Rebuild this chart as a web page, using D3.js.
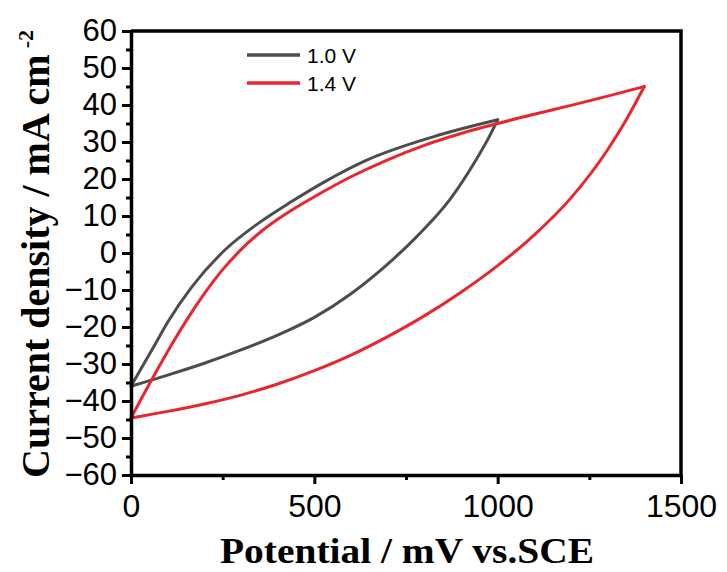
<!DOCTYPE html>
<html>
<head>
<meta charset="utf-8">
<script src="https://cdn.jsdelivr.net/npm/d3@7"></script>
<style>
  body { margin: 0; background: #fff; }
  svg { display: block; }
</style>
</head>
<body>
<svg id="cv"></svg>
<script>
// CV loops, one array per scan branch (potentials in mV, currents in mA cm-2)
// 1.0 V window
const fwdPotential10 = [0, 100, 200, 300, 400, 500, 600, 700, 780, 870, 940, 980, 1000];
const fwdCurrent10 = [-36, -33, -29.8, -26.2, -22.2, -17.4, -11, -3, 4.5, 14.5, 25, 32, 36];
const revPotential10 = [0, 30, 60, 102, 165, 256, 347, 438, 529, 643, 824, 1000];
const revCurrent10 = [-36, -30.8, -25.7, -18.4, -9.3, 0.8, 8, 13.9, 19.3, 25.1, 31.4, 36];

// 1.4 V window
const fwdPotential14 = [0, 100, 200, 300, 400, 500, 600, 700, 800, 900, 1000, 1100, 1200, 1300, 1350, 1400];
const fwdCurrent14 = [-44.6, -42.8, -40.8, -38.4, -35.4, -31.8, -27.6, -22.6, -17, -10.6, -3.4, 4.9, 14.9, 27.9, 35.9, 45];
const revPotential14 = [0, 50, 100, 150, 200, 250, 300, 350, 400, 450, 500, 600, 700, 800, 900, 1000, 1100, 1200, 1300, 1400];
const revCurrent14 = [-44.6, -35.4, -26.6, -18.4, -11, -4.5, 0.9, 5.4, 9.1, 12.3, 15.2, 20.6, 25.2, 29.1, 32.3, 35, 37.5, 39.9, 42.4, 45];

const seriesNames = ['1.0 V', '1.4 V'];
const seriesColors = ['#4d4d4d', '#e8262d'];
const xTicks = [0, 500, 1000, 1500];
const xMinorTicks = [250, 750, 1250];
const yTicks = [60, 50, 40, 30, 20, 10, 0, -10, -20, -30, -40, -50, -60];
const yMinorTicks = [55, 45, 35, 25, 15, 5, -5, -15, -25, -35, -45, -55];

const width = 727, height = 572;
const margin = { top: 31, right: 46, bottom: 97, left: 131 };

const svg = d3.select('#cv').attr('width', width).attr('height', height);

const x = d3.scaleLinear().domain([0, 1500]).range([margin.left, width - margin.right]);
const y = d3.scaleLinear().domain([-60, 60]).range([height - margin.bottom, margin.top]);

const zip = (xs, ys) => xs.map((v, i) => [v, ys[i]]);
const branches = [
  { s: 0, pts: zip(fwdPotential10, fwdCurrent10) },
  { s: 0, pts: zip(revPotential10, revCurrent10) },
  { s: 1, pts: zip(fwdPotential14, fwdCurrent14) },
  { s: 1, pts: zip(revPotential14, revCurrent14) }
];

const line = d3.line()
  .x(d => x(d[0]))
  .y(d => y(d[1]))
  .curve(d3.curveMonotoneX);

/** curves */
svg.append('g')
  .selectAll('path')
  .data(branches)
  .join('path')
  .attr('d', d => line(d.pts))
  .attr('fill', 'none')
  .attr('stroke', d => seriesColors[d.s])
  .attr('stroke-width', 3)
  .attr('stroke-linejoin', 'round')
  .attr('stroke-linecap', 'round');

/** frame: top and right lines */
svg.append('path')
  .attr('d', `M${x(0)},${y(60)}H${x(1500)}V${y(-60)}`)
  .attr('fill', 'none')
  .attr('stroke', '#000')
  .attr('stroke-width', 3.5);

/** minor ticks */
svg.append('g')
  .attr('transform', `translate(${x(0)},0)`)
  .call(d3.axisLeft(y).tickValues(yMinorTicks).tickSize(5).tickFormat(''))
  .call(g => g.select('.domain').remove())
  .call(g => g.selectAll('line').attr('stroke-width', 3));

svg.append('g')
  .attr('transform', `translate(0,${y(-60)})`)
  .call(d3.axisBottom(x).tickValues(xMinorTicks).tickSize(5).tickFormat(''))
  .call(g => g.select('.domain').remove())
  .call(g => g.selectAll('line').attr('stroke-width', 3));

/** major axes */
const yAxis = svg.append('g')
  .attr('transform', `translate(${x(0)},0)`)
  .call(d3.axisLeft(y).tickValues(yTicks).tickSize(9).tickSizeOuter(0).tickPadding(5));

const xAxis = svg.append('g')
  .attr('transform', `translate(0,${y(-60)})`)
  .call(d3.axisBottom(x).tickValues(xTicks).tickFormat(d3.format('d'))
    .tickSize(9).tickSizeOuter(0).tickPadding(10));

[yAxis, xAxis].forEach(g => {
  g.select('.domain').attr('stroke-width', 3.5);
  g.selectAll('.tick line').attr('stroke-width', 3);
  g.selectAll('.tick text')
    .attr('fill', '#000')
    .style('font-family', '"Liberation Sans", Arial, sans-serif');
});
yAxis.selectAll('.tick text').style('font-size', '31px');
xAxis.selectAll('.tick text').style('font-size', '32px');

/** axis titles */
svg.append('text')
  .attr('x', (x(0) + x(1500)) / 2 + 1)
  .attr('y', 563)
  .attr('text-anchor', 'middle')
  .attr('textLength', 374)
  .attr('lengthAdjust', 'spacingAndGlyphs')
  .style('font-family', '"Liberation Serif", "Times New Roman", serif')
  .style('font-weight', 'bold')
  .style('font-size', '36px')
  .text('Potential / mV vs.SCE');

const yTitle = svg.append('text')
  .attr('transform', 'translate(49,478) rotate(-90)')
  .style('font-family', '"Liberation Serif", "Times New Roman", serif')
  .style('font-weight', 'bold')
  .style('font-size', '40px');
yTitle.append('tspan').text('Current density / mA cm');
yTitle.append('tspan')
  .attr('dx', 6)
  .attr('dy', -16)
  .style('font-size', '22px')
  .text('-2');

/** legend */
const legend = svg.append('g')
  .selectAll('g')
  .data(seriesNames)
  .join('g')
  .attr('transform', (d, i) => `translate(247,${55 + i * 28})`);

legend.append('line')
  .attr('x1', 0).attr('x2', 53)
  .attr('stroke', (d, i) => seriesColors[i])
  .attr('stroke-width', 3.5);

legend.append('text')
  .attr('x', 60)
  .attr('y', 8)
  .style('font-family', '"Liberation Sans", Arial, sans-serif')
  .style('font-size', '21px')
  .text(d => d);
</script>
</body>
</html>
